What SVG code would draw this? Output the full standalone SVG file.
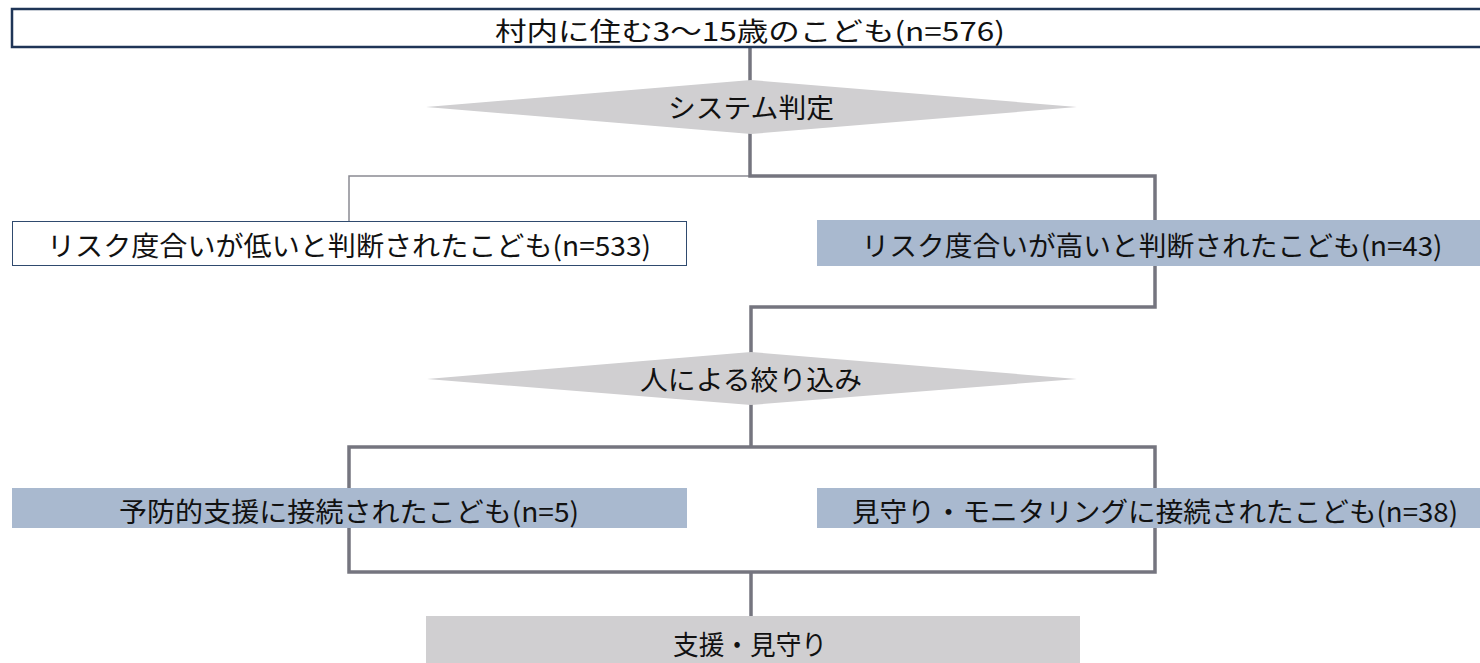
<svg xmlns="http://www.w3.org/2000/svg" width="1480" height="663" viewBox="0 0 1480 663">
<style>
.t{font-family:"Noto Sans CJK JP","Noto Sans",sans-serif;fill:#111;text-anchor:middle}
.thick{fill:none;stroke:#75757f;stroke-width:3.5;stroke-linejoin:miter}
.thin{fill:none;stroke:#8a8a92;stroke-width:1.5}
.blue{fill:#a9b9cf}
.gray{fill:#d0cfd1}
</style>
<rect x="0" y="0" width="1480" height="663" fill="#fff"/>
<g id="connectors">
<path class="thin" d="M751,176 H349 V221"/>
<path class="thick" d="M750,47 V176 H1155 V307 H751 V447"/>
<path class="thick" d="M349,447 H1155 V572 H349 Z"/>
<path class="thick" d="M751,572 V616"/>
</g>
<g id="n-top">
<rect x="12" y="9" width="1480" height="38" fill="none" stroke="#1f3557" stroke-width="2.5"/>
<text class="t" x="750" y="41" font-size="26" textLength="510" lengthAdjust="spacingAndGlyphs">村内に住む3〜15歳のこども(n=576)</text>
</g>
<g id="n-system">
<polygon class="gray" points="426,107 751,80 1077,107 751,134"/>
<text class="t" x="751" y="118" font-size="27" textLength="166" lengthAdjust="spacingAndGlyphs">システム判定</text>
</g>
<g id="n-low">
<rect x="12.5" y="221.5" width="674" height="44" fill="#fff" stroke="#2f4a6e" stroke-width="1"/>
<text class="t" x="349" y="256" font-size="27" textLength="604" lengthAdjust="spacingAndGlyphs">リスク度合いが低いと判断されたこども(n=533)</text>
</g>
<g id="n-high">
<rect class="blue" x="817" y="220" width="663" height="46"/>
<text class="t" x="1152" y="256" font-size="27" textLength="581" lengthAdjust="spacingAndGlyphs">リスク度合いが高いと判断されたこども(n=43)</text>
</g>
<g id="n-human">
<polygon class="gray" points="427,379 751,352 1077,379 751,405"/>
<text class="t" x="751" y="390" font-size="27" textLength="222" lengthAdjust="spacingAndGlyphs">人による絞り込み</text>
</g>
<g id="n-prev">
<rect class="blue" x="12" y="488" width="675" height="40"/>
<text class="t" x="349" y="522" font-size="27" textLength="460" lengthAdjust="spacingAndGlyphs">予防的支援に接続されたこども(n=5)</text>
</g>
<g id="n-watch">
<rect class="blue" x="817" y="488" width="663" height="40"/>
<text class="t" x="1155" y="522" font-size="27" textLength="606" lengthAdjust="spacingAndGlyphs">見守り・モニタリングに接続されたこども(n=38)</text>
</g>
<g id="n-support">
<rect class="gray" x="426" y="616" width="654" height="47"/>
<text class="t" x="750" y="655" font-size="27" textLength="154" lengthAdjust="spacingAndGlyphs">支援・見守り</text>
</g>
</svg>
